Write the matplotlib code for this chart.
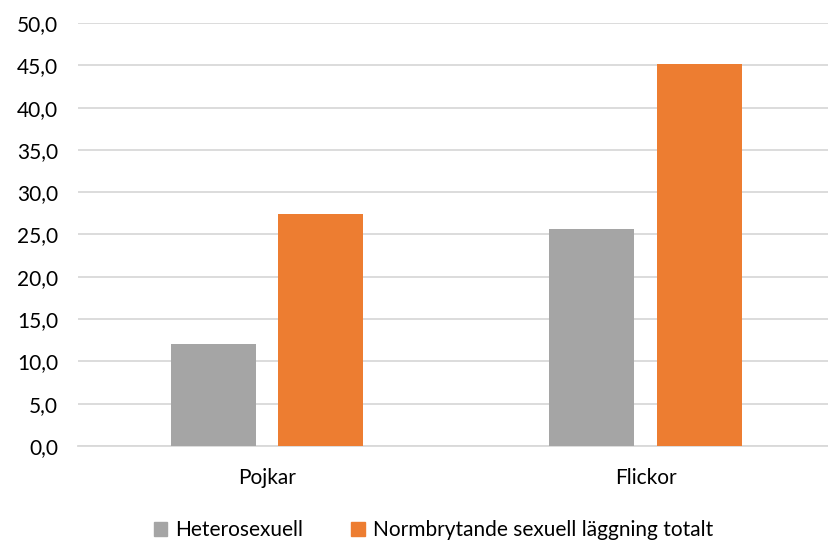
import matplotlib
matplotlib.use("Agg")
import matplotlib.pyplot as plt
from matplotlib.patches import Patch
import numpy as np

categories = ["Pojkar", "Flickor"]
series_names = ["Heterosexuell", "Normbrytande sexuell läggning totalt"]
heterosexuell = [12.0, 25.6]
normbrytande = [27.4, 45.2]
colors = ["#A5A5A5", "#ED7D31"]
yticks = np.arange(0, 50.1, 5)

plt.rcParams['font.family'] = ['Lato', 'DejaVu Sans']

W, H = 829, 540
fig = plt.figure(figsize=(W / 100, H / 100), dpi=100)
left_px, right_px, bottom_px, top_px = 77.6, 835.2, 446, 23
ax = fig.add_axes([left_px / W, 1 - bottom_px / H,
                   (right_px - left_px) / W, (bottom_px - top_px) / H])

x = np.arange(len(categories))
bw = 0.2245
off = 0.1423
ax.bar(x - off, heterosexuell, bw, color=colors[0], zorder=3)
ax.bar(x + off, normbrytande, bw, color=colors[1], zorder=3)

ax.set_xlim(-0.5, 1.5)
ax.set_ylim(0, 50)
ax.set_yticks(yticks)
ax.set_yticklabels([f"{v:.1f}".replace(".", ",") for v in yticks])
ax.set_xticks(x)
ax.set_xticklabels(categories)
ax.yaxis.grid(True, color="#D9D9D9", linewidth=1.3, zorder=0)
ax.set_axisbelow(True)
for s in ["top", "right", "left"]:
    ax.spines[s].set_visible(False)
ax.spines["bottom"].set_color("#D9D9D9")
ax.spines["bottom"].set_linewidth(1.3)
ax.tick_params(axis="both", length=0, labelsize=15, colors="#000000")
ax.tick_params(axis="y", pad=14)
ax.tick_params(axis="x", pad=16)

handles = [Patch(color=c) for c in colors]
fig.legend(handles, series_names, loc="center", bbox_to_anchor=(433.5 / W, 1 - 530 / H),
           ncol=2, frameon=False, fontsize=15, handlelength=0.65, handleheight=0.65,
           handletextpad=0.4, columnspacing=2.3, borderpad=0)

fig.savefig("out.png", dpi=100)
